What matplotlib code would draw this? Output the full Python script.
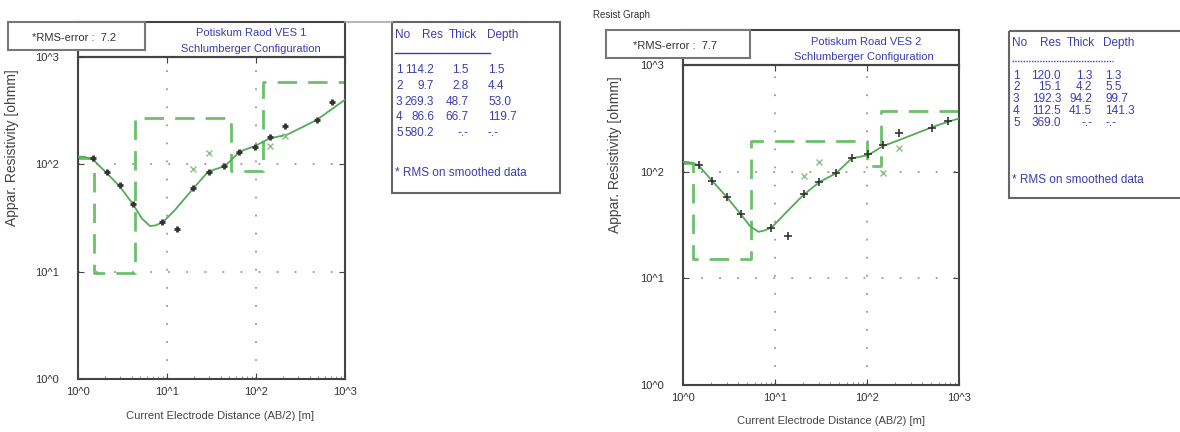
import matplotlib.pyplot as plt
from matplotlib.patches import Rectangle

plt.rcParams['font.family'] = ['Liberation Sans', 'DejaVu Sans']

W, H = 1180, 432

# ---- VES 1 : layer model (table) ----
ves1_no = [1, 2, 3, 4, 5]
ves1_res = [114.2, 9.7, 269.3, 86.6, 580.2]
ves1_thick = [1.5, 2.8, 48.7, 66.7]
ves1_depth = [1.5, 4.4, 53.0, 119.7]
ves1_rms = 7.2
# field data (+) and smoothed data (x)
ves1_ab2 = [1.49, 2.1, 2.96, 4.19, 8.9, 12.9, 19.8, 29.6, 43.7, 64, 97.4, 144, 212, 481, 719]
ves1_rho = [114, 84, 64, 43, 29, 25, 60.6, 85.5, 97, 131, 145, 179, 228, 259, 384]
ves1_sm_ab2 = [19.8, 29.6, 144, 212]
ves1_sm_rho = [90, 128, 148, 185]
# model response curve
ves1_fit_ab2 = [1.0, 1.2, 1.49, 2.19, 2.96, 4.19, 5.2, 6.44, 7.5, 9.1, 12.3, 19.8, 29.1,
                44.9, 66, 97.4, 144, 221, 481, 1000]
ves1_fit_rho = [118, 117, 110, 80, 62, 42, 31.4, 26.6, 27, 29.2, 37.6, 59.8, 85.5,
                96.6, 132, 148, 175, 188, 259, 400]

# ---- VES 2 ----
ves2_no = [1, 2, 3, 4, 5]
ves2_res = [120.0, 15.1, 192.3, 112.5, 369.0]
ves2_thick = [1.3, 4.2, 94.2, 41.5]
ves2_depth = [1.3, 5.5, 99.7, 141.3]
ves2_rms = 7.7
ves2_ab2 = [1.5, 2.08, 2.99, 4.27, 9.05, 14, 20.5, 30.3, 46, 68, 103, 150, 224, 505, 765]
ves2_rho = [115, 81.6, 57.8, 40.3, 29.4, 25.1, 61.3, 80.5, 97.8, 133, 146, 178, 231, 257, 299]
ves2_sm_ab2 = [20.5, 30.3, 150, 224]
ves2_sm_rho = [91, 123, 97, 165]
ves2_fit_ab2 = [1.0, 1.2, 1.47, 2.05, 2.98, 4.17, 5.35, 6.58, 7.6, 9.2, 13.4, 20.3, 30.8,
                46, 68, 103, 150, 224, 525, 765, 1000]
ves2_fit_rho = [124, 122, 115, 83, 58, 40.7, 30.9, 27.3, 28, 30, 42, 60.4, 80.5,
                96.4, 133, 143, 174, 198, 264, 294, 316]

ticks = [1, 10, 100, 1000]
tick_labels = ['10^0', '10^1', '10^2', '10^3']
table_cols = ['No', 'Res', 'Thick', 'Depth']

BLUE = '#3c3cb4'
FRAME = '#444444'


def add_axes_px(fig, x0, y0, x1, y1):
    return fig.add_axes([x0 / W, 1 - y1 / H, (x1 - x0) / W, (y1 - y0) / H])


def draw_panel(ax, res, depth, ab2, rho, sm_ab2, sm_rho, fit_ab2, fit_rho, ms, mew):
    ax.set_xscale('log')
    ax.set_yscale('log')
    ax.set_xlim(1, 1000)
    ax.set_ylim(1, 1000)
    for s in ax.spines.values():
        s.set_color(FRAME)
        s.set_linewidth(1.5)
    ax.set_xticks(ticks)
    ax.set_xticklabels(tick_labels)
    ax.set_yticks(ticks)
    ax.set_yticklabels(tick_labels)
    ax.tick_params(which='major', direction='in', length=4, top=True, right=True,
                   colors=FRAME, labelcolor='#333333', labelsize=8)
    ax.tick_params(axis='y', pad=14)
    ax.tick_params(axis='x', pad=6)
    ax.tick_params(which='minor', direction='in', length=2, top=False, right=False,
                   colors='#777777')
    ax.set_yticks([], minor=True)
    ax.grid(True, which='major', linestyle=(0, (1, 9)), color='#999999', linewidth=1.3)

    ax.step([1] + depth + [1000], res + [res[-1]], where='post', color='#6cc06c',
            linewidth=2, dashes=(7, 4), zorder=2)
    ax.plot(fit_ab2, fit_rho, color='#55aa55', linewidth=1.3, zorder=3)
    ax.plot(sm_ab2, sm_rho, linestyle='none', marker='x', ms=4, mew=1,
            color='#8cbf8c', zorder=4)
    ax.plot(ab2, rho, linestyle='none', marker='+', ms=ms, mew=mew,
            color='#333333', zorder=5)

    ax.set_xlabel('Current Electrode Distance (AB/2) [m]', fontsize=8, color='#444444')
    ax.set_ylabel('Appar. Resistivity [ohmm]', fontsize=10, color='#444444')
    ax.yaxis.set_label_coords(-0.22, 0.72)


def draw_table(ov, no, res, thick, depth, head_x, head_ha, res_x, thick_x, depth_x,
               y_head, y_line, line_x1, row_y, y_note, fs, line_style):
    x0 = head_x[0]
    for name, hx, ha in zip(table_cols, head_x, head_ha):
        ov.text(hx, y_head, name, fontsize=fs, color=BLUE, va='center', ha=ha)
    ov.plot([x0, line_x1], [y_line, y_line], color=BLUE, linewidth=1, linestyle=line_style)
    for i, n in enumerate(no):
        y = row_y[i]
        ov.text(x0 + 1, y, str(n), fontsize=fs, color=BLUE, va='center')
        ov.text(res_x, y, f'{res[i]:.1f}', fontsize=fs, color=BLUE, va='center', ha='right')
        t = f'{thick[i]:.1f}' if i < len(thick) else '-.-'
        d = f'{depth[i]:.1f}' if i < len(depth) else '-.-'
        ov.text(thick_x, y, t, fontsize=fs, color=BLUE, va='center', ha='right')
        ov.text(depth_x, y, d, fontsize=fs, color=BLUE, va='center')
    ov.text(x0, y_note, '* RMS on smoothed data', fontsize=fs, color=BLUE, va='center')


fig = plt.figure(figsize=(W / 100, H / 100), dpi=100)
fig.patch.set_facecolor('white')

ax1 = add_axes_px(fig, 78, 57, 345, 379)
draw_panel(ax1, ves1_res, ves1_depth, ves1_ab2, ves1_rho, ves1_sm_ab2, ves1_sm_rho,
           ves1_fit_ab2, ves1_fit_rho, 5, 2)
ax1.xaxis.set_label_coords(0.53, -0.1)

ax2 = add_axes_px(fig, 683, 65, 959, 385)
draw_panel(ax2, ves2_res, ves2_depth, ves2_ab2, ves2_rho, ves2_sm_ab2, ves2_sm_rho,
           ves2_fit_ab2, ves2_fit_rho, 6, 1.2)
ax2.xaxis.set_label_coords(0.536, -0.098)

# overlay in pixel coordinates for the header boxes and tables
ov = fig.add_axes([0, 0, 1, 1], zorder=5)
ov.set_xlim(0, W)
ov.set_ylim(H, 0)
ov.axis('off')

# left header
ov.add_patch(Rectangle((78, 22), 267, 35, fill=False, edgecolor=FRAME, linewidth=1.5))
ov.plot([345, 392], [22, 22], color='#aaaaaa', linewidth=1.2)
ov.add_patch(Rectangle((8, 22), 137, 28, facecolor='white', edgecolor='#777777',
                       linewidth=1.5, zorder=3))
ov.text(32, 38, f'*RMS-error :  {ves1_rms}', fontsize=8, color='#333333', va='center', zorder=4)
ov.text(251, 33, 'Potiskum Raod VES 1', fontsize=8, color=BLUE, ha='center', va='center')
ov.text(251, 49, 'Schlumberger Configuration', fontsize=8, color=BLUE, ha='center', va='center')

# right header
ov.text(593, 15, 'Resist Graph', fontsize=7, color='#333333', va='center')
ov.add_patch(Rectangle((683, 30), 276, 35, fill=False, edgecolor=FRAME, linewidth=1.5))
ov.add_patch(Rectangle((606, 30), 144, 28, facecolor='white', edgecolor='#777777',
                       linewidth=1.5, zorder=3))
ov.text(633, 46, f'*RMS-error :  {ves2_rms}', fontsize=8, color='#333333', va='center', zorder=4)
ov.text(866, 42, 'Potiskum Road VES 2', fontsize=8, color=BLUE, ha='center', va='center')
ov.text(864, 57, 'Schlumberger Configuration', fontsize=8, color=BLUE, ha='center', va='center')

# tables
ov.add_patch(Rectangle((392, 22), 168, 171, fill=False, edgecolor='#666666', linewidth=1.5))
draw_table(ov, ves1_no, ves1_res, ves1_thick, ves1_depth,
           [395, 422, 449, 487], ['left'] * 4, 434, 469, 488, 35, 53, 490,
           [70, 86, 102, 117, 133], 173, 8.5, '-')
ov.add_patch(Rectangle((1009, 31), 190, 167, fill=False, edgecolor='#666666', linewidth=1.5))
draw_table(ov, ves2_no, ves2_res, ves2_thick, ves2_depth,
           [1012, 1061, 1095, 1103], ['left', 'right', 'right', 'left'], 1061, 1092, 1105,
           43, 61, 1113, [76, 87, 99, 111, 123], 180, 8.5, (0, (1, 1)))

fig.savefig('out.png', dpi=100)
